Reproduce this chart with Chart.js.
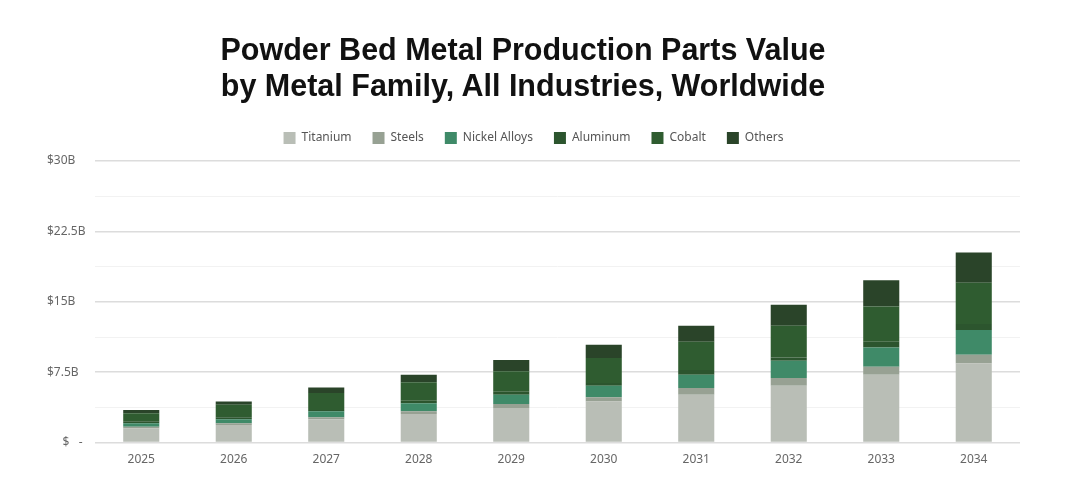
<!DOCTYPE html>
<html>
<head>
<meta charset="utf-8">
<script src="https://cdn.jsdelivr.net/npm/chart.js@4.4.1/dist/chart.umd.min.js"></script>
<style>
  html, body { margin: 0; padding: 0; background: #fff; }
  #wrap { position: relative; width: 1080px; height: 501px; }
  #title {
    position: absolute; left: 0; top: 31px; width: 1046px; text-align: center;
    font-family: "Liberation Sans", Arial, sans-serif; font-weight: bold;
    font-size: 30.5px; line-height: 36px; color: #111;
  }
  canvas { position: absolute; left: 0; top: 0; }
</style>
</head>
<body>
<div id="wrap">
  <canvas id="chart" width="1080" height="501"></canvas>
  <div id="title">Powder Bed Metal Production Parts Value<br>by Metal Family, All Industries, Worldwide</div>
</div>
<script>
var years = ["2025", "2026", "2027", "2028", "2029", "2030", "2031", "2032", "2033", "2034"];
var titanium = [1.52, 1.88, 2.48, 3.05, 3.69, 4.39, 5.1, 6.06, 7.23, 8.44];
var steels = [0.18, 0.17, 0.22, 0.28, 0.42, 0.43, 0.72, 0.82, 0.86, 0.92];
var nickel = [0.35, 0.43, 0.63, 0.85, 0.99, 1.24, 1.41, 1.84, 2.05, 2.64];
var aluminum = [0.22, 0.22, 0.15, 0.29, 0.33, 0.29, 0.5, 0.35, 0.6, 0.64];
var cobalt = [0.85, 1.34, 1.81, 1.95, 2.16, 2.66, 3.01, 3.38, 3.76, 4.4];
var others = [0.35, 0.35, 0.59, 0.81, 1.21, 1.42, 1.71, 2.23, 2.8, 3.2];
var yTicks = { 0: "     $   -", 7.5: "$7.5B", 15: "$15B", 22.5: "$22.5B", 30: "$30B" };

(function () {
  var tc = "#666",
    font = "'Noto Sans', 'Open Sans', sans-serif";

  function ds(label, data, color) {
    return {
      label: label,
      data: data,
      backgroundColor: color,
      borderWidth: 0,
      barPercentage: 0.39,
      categoryPercentage: 1,
    };
  }

  // a little more room under the legend
  var legendGap = {
    id: "legendGap",
    beforeInit: function (chart) {
      var fit = chart.legend.fit;
      chart.legend.fit = function () {
        fit.bind(chart.legend)();
        this.height += 7;
      };
    },
  };

  new Chart(document.getElementById("chart"), {
    type: "bar",
    data: {
      labels: years,
      datasets: [
        ds("Titanium", titanium, "#b9beb6"),
        ds("Steels", steels, "#97a193"),
        ds("Nickel Alloys", nickel, "#3f8a68"),
        ds("Aluminum", aluminum, "#2c552e"),
        ds("Cobalt", cobalt, "#2f5c30"),
        ds("Others", others, "#2a4429"),
      ],
    },
    plugins: [legendGap],
    options: {
      responsive: false,
      animation: false,
      layout: { padding: { left: 47, right: 60, top: 111, bottom: 32 } },
      plugins: {
        legend: {
          position: "top",
          labels: { color: "#555", boxWidth: 12, boxHeight: 12, padding: 21, font: { family: font, size: 12 } },
        },
        tooltip: { enabled: false },
      },
      scales: {
        x: {
          stacked: true,
          grid: { display: false },
          border: { display: false },
          ticks: { color: tc, padding: 2, font: { family: font, size: 12 } },
        },
        y: {
          stacked: true,
          min: 0,
          max: 30,
          afterFit: function (s) {
            s.width = 48;
          },
          border: { display: false },
          grid: {
            drawTicks: false,
            lineWidth: function (c) {
              return c.tick && c.tick.value % 7.5 === 0 ? 1.5 : 1;
            },
            color: function (c) {
              return c.tick && c.tick.value % 7.5 === 0 ? "#dcdcdc" : "#f2f2f2";
            },
          },
          ticks: {
            stepSize: 3.75,
            crossAlign: "far",
            color: tc,
            font: { family: font, size: 12 },
            callback: function (v) {
              return yTicks[v] !== undefined ? yTicks[v] : "";
            },
          },
        },
      },
    },
  });
})();
</script>
</body>
</html>
